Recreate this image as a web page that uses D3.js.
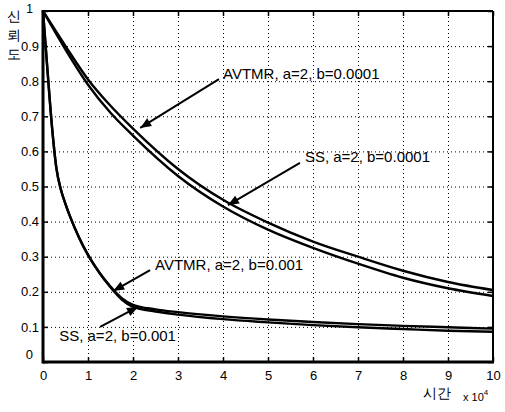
<!DOCTYPE html>
<html>
<head>
<meta charset="utf-8">
<script src="https://cdn.jsdelivr.net/npm/d3@7"></script>
<style>
  body { margin: 0; background: #fff; }
  text { font-family: "Liberation Sans", Arial, sans-serif; fill: #000; }
</style>
</head>
<body>
<div id="chart"></div>
<script>
// time in units of 1e4
let tFast = [0, 0.1, 0.2, 0.3, 0.4, 0.5, 0.6, 0.8, 1, 1.25, 1.5, 1.75, 2, 2.5, 3, 4, 5, 6, 7, 8, 9, 10];
let avtmrFast = [1, 0.83, 0.67, 0.55, 0.49, 0.45, 0.415, 0.355, 0.305, 0.255, 0.215, 0.182, 0.163, 0.15, 0.142, 0.13, 0.121, 0.114, 0.108, 0.103, 0.099, 0.095];
let ssFast = [1, 0.83, 0.67, 0.55, 0.49, 0.45, 0.415, 0.355, 0.305, 0.255, 0.213, 0.178, 0.157, 0.144, 0.135, 0.122, 0.113, 0.105, 0.099, 0.094, 0.089, 0.086];
let tSlow = [0, 0.5, 1, 1.5, 2, 3, 4, 5, 6, 7, 8, 9, 10];
let avtmrSlow = [1, 0.9, 0.805, 0.73, 0.665, 0.55, 0.462, 0.397, 0.343, 0.3, 0.26, 0.228, 0.205];
let ssSlow = [1, 0.89, 0.79, 0.71, 0.645, 0.53, 0.443, 0.377, 0.325, 0.28, 0.24, 0.21, 0.188];
let xTicks = [0, 1, 2, 3, 4, 5, 6, 7, 8, 9, 10];
let yTicks = [0, 0.1, 0.2, 0.3, 0.4, 0.5, 0.6, 0.7, 0.8, 0.9, 1];
// annotations: label, text anchor point, arrow tail, arrow tip (data units)
let notes = [
    { label: "AVTMR, a=2, b=0.0001", at: [4.0, 0.82], from: [3.91, 0.806], to: [2.16, 0.667] },
    { label: "SS, a=2, b=0.0001", at: [5.82, 0.584], from: [5.71, 0.567], to: [4.11, 0.447] },
    { label: "AVTMR, a=2, b=0.001", at: [2.49, 0.276], from: [2.38, 0.262], to: [1.56, 0.202] },
    { label: "SS, a=2, b=0.001", at: [0.36, 0.074], from: [1.27, 0.1], to: [2.11, 0.157] }
];

(function () {
    let width = 505, height = 412;
    let left = 43, right = 493, top = 11, bottom = 362;
    let svg = d3.select("#chart")
        .append("svg")
        .attr("width", width)
        .attr("height", height);

    let x = d3.scaleLinear().domain([0, 10]).range([left, right]);
    let y = d3.scaleLinear().domain([0, 1]).range([bottom, top]);

    // dotted grid
    svg.append("g")
        .attr("transform", `translate(0,${bottom})`)
        .call(d3.axisBottom(x).tickValues(xTicks.slice(1, -1)).tickSize(-(bottom - top)).tickFormat(""))
        .call(g => g.select(".domain").remove())
        .selectAll("line")
        .attr("stroke", "#000")
        .attr("stroke-width", 1)
        .attr("stroke-dasharray", "1,3");
    svg.append("g")
        .attr("transform", `translate(${left},0)`)
        .call(d3.axisLeft(y).tickValues(yTicks.slice(1, -1)).tickSize(-(right - left)).tickFormat(""))
        .call(g => g.select(".domain").remove())
        .selectAll("line")
        .attr("stroke", "#000")
        .attr("stroke-width", 1)
        .attr("stroke-dasharray", "1,3");

    // axes with inward ticks
    let xAxis = svg.append("g")
        .attr("transform", `translate(0,${bottom})`)
        .call(d3.axisBottom(x).tickValues(xTicks).tickSize(-5).tickPadding(9).tickFormat(d3.format("d")));
    let yAxis = svg.append("g")
        .attr("transform", `translate(${left},0)`)
        .call(d3.axisLeft(y).tickValues(yTicks).tickSize(-5).tickPadding(4).tickFormat(d => d === 0 || d === 1 ? d : d3.format(".1f")(d)));
    svg.append("g")
        .attr("transform", `translate(0,${top})`)
        .call(d3.axisTop(x).tickValues(xTicks).tickSize(-5).tickFormat(""));
    svg.append("g")
        .attr("transform", `translate(${right},0)`)
        .call(d3.axisRight(y).tickValues(yTicks).tickSize(-5).tickFormat(""));
    svg.selectAll(".domain").remove();
    svg.selectAll(".tick line").filter(function () { return !this.getAttribute("stroke-dasharray"); })
        .attr("stroke", "#000").attr("stroke-width", 1.5);
    xAxis.selectAll("text").attr("font-size", "13px").attr("font-family", "Liberation Sans, Arial, sans-serif");
    yAxis.selectAll("text").attr("font-size", "13px").attr("font-family", "Liberation Sans, Arial, sans-serif");
    yAxis.selectAll(".tick").filter(d => d === 1).select("text").attr("dx", "-6").attr("dy", "0.15em").attr("font-size", "12px");
    yAxis.selectAll(".tick").filter(d => d === 0).select("text").attr("dx", "-6").attr("dy", "-4");

    // frame
    svg.append("line").attr("x1", left).attr("x2", right).attr("y1", top).attr("y2", top)
        .attr("stroke", "#000").attr("stroke-width", 2);
    svg.append("line").attr("x1", right).attr("x2", right).attr("y1", top).attr("y2", bottom)
        .attr("stroke", "#000").attr("stroke-width", 2);
    svg.append("line").attr("x1", left).attr("x2", left).attr("y1", top - 1).attr("y2", bottom + 1.5)
        .attr("stroke", "#000").attr("stroke-width", 3);
    svg.append("line").attr("x1", left).attr("x2", right + 1).attr("y1", bottom).attr("y2", bottom)
        .attr("stroke", "#000").attr("stroke-width", 3);

    // curves
    let line = d3.line()
        .curve(d3.curveMonotoneX)
        .x(d => x(d[0]))
        .y(d => y(d[1]));
    let series = [
        d3.zip(tSlow, avtmrSlow),
        d3.zip(tSlow, ssSlow),
        d3.zip(tFast, avtmrFast),
        d3.zip(tFast, ssFast)
    ];
    svg.append("g")
        .selectAll("path")
        .data(series)
        .enter()
        .append("path")
        .attr("fill", "none")
        .attr("stroke", "#000")
        .attr("stroke-width", 2.4)
        .attr("d", line);

    // annotations
    let ng = svg.append("g").selectAll("g").data(notes).enter().append("g");
    ng.append("line")
        .attr("x1", d => x(d.from[0]))
        .attr("y1", d => y(d.from[1]))
        .attr("x2", d => x(d.to[0]))
        .attr("y2", d => y(d.to[1]))
        .attr("stroke", "#000")
        .attr("stroke-width", 2);
    ng.append("path")
        .attr("fill", "#000")
        .attr("d", d => {
            let x0 = x(d.from[0]), y0 = y(d.from[1]);
            let x1 = x(d.to[0]), y1 = y(d.to[1]);
            let a = Math.atan2(y1 - y0, x1 - x0);
            let len = 11, w = 4.5;
            let bx = x1 - len * Math.cos(a), by = y1 - len * Math.sin(a);
            let px = -Math.sin(a) * w, py = Math.cos(a) * w;
            return `M${x1},${y1}L${bx + px},${by + py}L${bx - px},${by - py}Z`;
        });
    ng.append("text")
        .attr("x", d => x(d.at[0]))
        .attr("y", d => y(d.at[1]))
        .attr("dy", "0.35em")
        .attr("font-size", "15px")
        .text(d => d.label);

    // axis labels
    let yl = svg.append("text")
        .attr("x", 14)
        .attr("font-family", "Noto Sans CJK KR, sans-serif")
        .attr("font-size", "14px")
        .attr("text-anchor", "middle");
    ["신", "뢰", "도"].forEach((c, i) => {
        yl.append("tspan").attr("x", 14).attr("y", 21 + i * 19).text(c);
    });
    svg.append("text")
        .attr("x", 437)
        .attr("y", 398)
        .attr("text-anchor", "middle")
        .attr("font-family", "Noto Sans CJK KR, sans-serif")
        .attr("font-size", "14px")
        .text("시간");
    let mult = svg.append("text")
        .attr("x", 463)
        .attr("y", 401)
        .attr("font-size", "11px");
    mult.append("tspan").text("x 10");
    mult.append("tspan").attr("font-size", "8px").attr("dy", "-6").text("4");
})()
</script>
</body>
</html>
